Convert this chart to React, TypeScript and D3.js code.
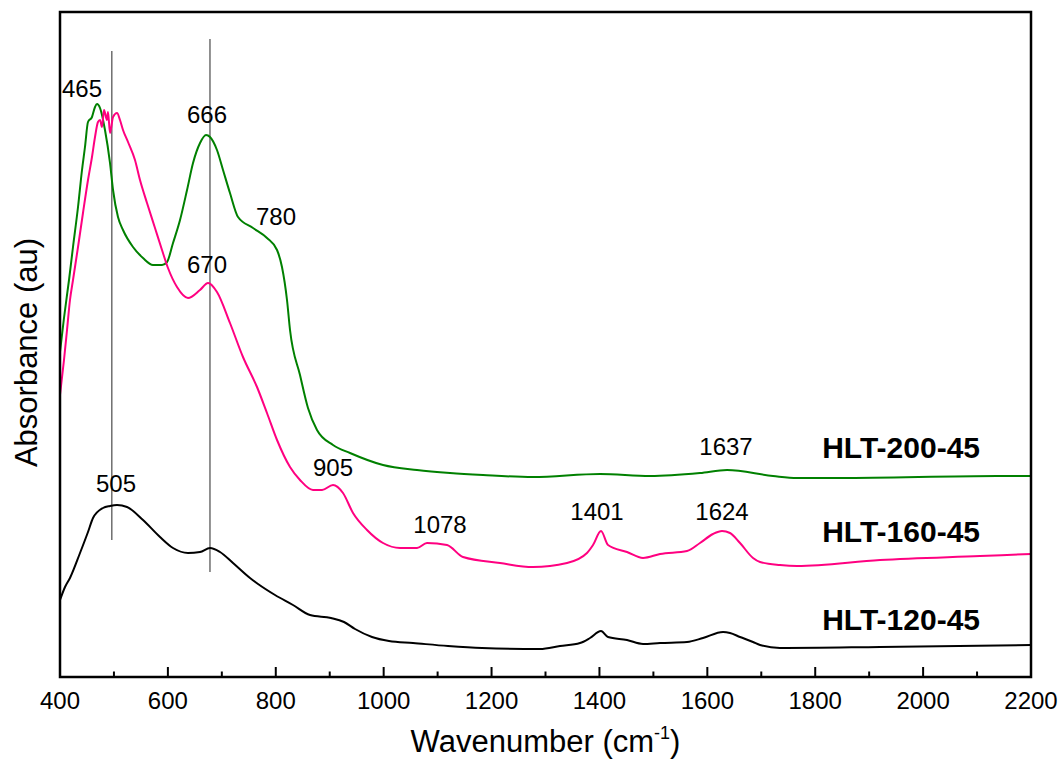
import React from "react";
import * as d3 from "d3";

// wavenumber (cm-1), absorbance (au)
const hlt200: [number, number][] = [
  [400, 0.65], [407.4, 0.718], [416.7, 0.794], [424.1, 0.86], [433.4, 0.94], [440.8, 1.014], [446.3, 1.06],
  [451.9, 1.11], [459.3, 1.12], [464.9, 1.14], [468.6, 1.146], [474.2, 1.138], [483.4, 1.094], [492.7, 1.028],
  [498.3, 0.974], [507.5, 0.92], [516.8, 0.894], [535.3, 0.86], [553.9, 0.838], [572.4, 0.824], [589.1, 0.824],
  [598.4, 0.83], [609.5, 0.868], [622.5, 0.914], [635.5, 0.974], [646.6, 1.028], [659.6, 1.068], [670.7, 1.084],
  [678.1, 1.08], [691.0, 1.054], [702.2, 1.014], [715.1, 0.968], [730.0, 0.92], [757.8, 0.898], [783.7, 0.878],
  [802.3, 0.854], [811.5, 0.82], [820.8, 0.754], [826.4, 0.694], [844.9, 0.604], [859.7, 0.538], [876.4, 0.494],
  [906.1, 0.464], [937.6, 0.448], [998.8, 0.424], [1061.8, 0.414], [1123.0, 0.408], [1184.2, 0.404],
  [1276.8, 0.4], [1401.1, 0.406], [1493.7, 0.402], [1586.4, 0.408], [1636.5, 0.414], [1721.8, 0.402],
  [1766.3, 0.398], [1846.0, 0.398], [2137.0, 0.402], [2200, 0.402],
];

const hlt160: [number, number][] = [
  [400, 0.564], [407.4, 0.634], [413.0, 0.694], [418.5, 0.754], [424.1, 0.794], [433.4, 0.86], [442.6, 0.928],
  [451.9, 0.994], [459.3, 1.04], [464.9, 1.08], [470.4, 1.11], [474.2, 1.114], [477.9, 1.1], [481.6, 1.134],
  [487.1, 1.114], [489.0, 1.13], [492.7, 1.088], [498.3, 1.12], [505.7, 1.128], [511.2, 1.114], [516.8, 1.094],
  [526.1, 1.07], [539.0, 1.034], [548.3, 0.994], [561.3, 0.948], [576.1, 0.898], [589.1, 0.854], [600.2, 0.818],
  [616.9, 0.78], [637.3, 0.758], [659.5, 0.774], [674.4, 0.788], [691.0, 0.77], [715.1, 0.708], [739.2, 0.64],
  [765.2, 0.58], [783.7, 0.528], [802.3, 0.474], [826.4, 0.42], [844.9, 0.394], [869.0, 0.374], [885.7, 0.374],
  [906.1, 0.384], [924.6, 0.368], [943.2, 0.328], [969.1, 0.294], [998.8, 0.268], [1030.3, 0.258],
  [1061.8, 0.258], [1080.3, 0.268], [1117.4, 0.264], [1147.1, 0.24], [1215.7, 0.228], [1276.8, 0.22],
  [1339.9, 0.228], [1376.9, 0.248], [1388.1, 0.264], [1402.9, 0.292], [1415.9, 0.264], [1451.1, 0.25],
  [1480.8, 0.238], [1512.3, 0.246], [1562.3, 0.252], [1586.4, 0.268], [1610.5, 0.286], [1627.2, 0.292],
  [1642.0, 0.288], [1660.6, 0.268], [1684.7, 0.238], [1697.7, 0.23], [1734.7, 0.224], [1766.3, 0.222],
  [1920.1, 0.234], [2105.5, 0.242], [2200, 0.246],
];

const hlt120: [number, number][] = [
  [400, 0.154], [409.3, 0.18], [418.5, 0.198], [437.1, 0.248], [451.9, 0.29], [461.2, 0.318], [479.7, 0.338],
  [492.7, 0.342], [505.7, 0.344], [524.2, 0.34], [553.9, 0.314], [585.4, 0.28], [609.5, 0.258], [637.3, 0.248],
  [659.5, 0.25], [678.1, 0.258], [696.6, 0.25], [720.7, 0.228], [752.2, 0.198], [767.1, 0.186], [798.6, 0.164],
  [831.9, 0.144], [863.5, 0.124], [902.4, 0.118], [926.5, 0.11], [946.9, 0.096], [978.4, 0.08], [1009.9, 0.072],
  [1054.4, 0.068], [1119.3, 0.062], [1182.3, 0.058], [1289.8, 0.056], [1326.9, 0.062], [1364.0, 0.068],
  [1382.5, 0.078], [1402.9, 0.092], [1415.9, 0.08], [1451.1, 0.074], [1480.8, 0.066], [1512.3, 0.068],
  [1562.3, 0.07], [1592.0, 0.078], [1629.1, 0.09], [1642.0, 0.088], [1660.6, 0.08], [1684.7, 0.07],
  [1697.7, 0.064], [1734.7, 0.058], [1920.1, 0.06], [2200, 0.064],
];

const seriesNames = ["HLT-200-45", "HLT-160-45", "HLT-120-45"];
const seriesColors = ["#008000", "#ff0080", "#000000"];
const seriesData = [hlt200, hlt160, hlt120];
// series label anchor (end x in wavenumber, baseline in absorbance)
const seriesLabelPos: [number, number][] = [[2105.5, 0.438], [2105.5, 0.27], [2105.5, 0.094]];

// peak annotations: text, wavenumber (centre), absorbance (baseline)
const peakLabels: [string, number, number][] = [
  ["465", 440.8, 1.16], ["666", 672.5, 1.108], ["780", 800.4, 0.904], ["670", 672.5, 0.808],
  ["505", 503.8, 0.37], ["905", 906.1, 0.402], ["1078", 1104.4, 0.288], ["1401", 1395.5, 0.314],
  ["1624", 1627.2, 0.314], ["1637", 1634.6, 0.444],
];

// reference vertical lines: wavenumber, y top, y bottom
const refLines: [number, number, number][] = [[496, 1.252, 0.274], [678, 1.276, 0.21]];

const xMajorTicks = [400, 600, 800, 1000, 1200, 1400, 1600, 1800, 2000, 2200];
const xMinorTicks = [500, 700, 900, 1100, 1300, 1500, 1700, 1900, 2100];

export default function App() {
  const W = 1064, H = 762;
  const left = 60, right = 1031, top = 12, bottom = 677;
  const x = d3.scaleLinear().domain([400, 2200]).range([left, right]);
  const y = d3.scaleLinear().domain([0, 1.33]).range([bottom, top]);
  const line = d3.line<[number, number]>().x(d => x(d[0])).y(d => y(d[1])).curve(d3.curveMonotoneX);
  const font = "'Liberation Sans', Arial, sans-serif";

  return (
    <svg width={W} height={H} style={{ position: "absolute", left: 0, top: 0, background: "#fff" }} fontFamily={font}>
      <rect x={0} y={0} width={W} height={H} fill="#fff" />
      {refLines.map(([w, a, b], i) => (
        <line key={i} x1={x(w)} x2={x(w)} y1={y(a)} y2={y(b)} stroke="#6e6e6e" strokeWidth={1.5} />
      ))}
      {seriesData.map((d, i) => (
        <path key={i} d={line(d) || ""} fill="none" stroke={seriesColors[i]} strokeWidth={2} strokeLinejoin="round" />
      ))}
      <rect x={left} y={top} width={right - left} height={bottom - top} fill="none" stroke="#000" strokeWidth={2.5} />
      {xMajorTicks.map(t => (
        <g key={t}>
          <line x1={x(t)} x2={x(t)} y1={bottom} y2={bottom - 10} stroke="#000" strokeWidth={2} />
          <text x={x(t)} y={709} fontSize={24} textAnchor="middle">{t}</text>
        </g>
      ))}
      {xMinorTicks.map(t => (
        <line key={t} x1={x(t)} x2={x(t)} y1={bottom} y2={bottom - 5.5} stroke="#000" strokeWidth={2} />
      ))}
      {peakLabels.map(([s, w, a], i) => (
        <text key={i} x={x(w)} y={y(a)} fontSize={24} textAnchor="middle">{s}</text>
      ))}
      {seriesNames.map((n, i) => (
        <text key={n} x={x(seriesLabelPos[i][0])} y={y(seriesLabelPos[i][1])} fontSize={30} fontWeight="bold" textAnchor="end">{n}</text>
      ))}
      <text x={(left + right) / 2} y={752} fontSize={31} textAnchor="middle">
        Wavenumber (cm<tspan fontSize={18} dy={-13}>-1</tspan><tspan dy={13}>)</tspan>
      </text>
      <text transform={`translate(37,${(top + bottom) / 2 + 8}) rotate(-90)`} fontSize={31} textAnchor="middle">
        Absorbance (au)
      </text>
    </svg>
  );
}
